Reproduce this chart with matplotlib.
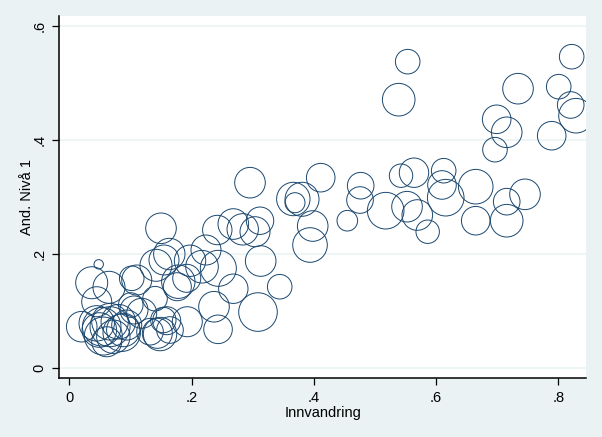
import numpy as np
import matplotlib
matplotlib.use("Agg")
import matplotlib.pyplot as plt

# --- data (x = Innvandring, y = And. Nivå 1, w = bubble weight)
innvandring = [
    0.5536, 0.5389, 0.8219, 0.7341, 0.8007, 0.8203, 0.8290, 0.6992, 0.7156, 0.7892, 0.6964,
    0.4113, 0.4767, 0.4756, 0.4548, 0.5176, 0.5427, 0.5639, 0.6125, 0.6097, 0.6158, 0.6649,
    0.5525, 0.5693, 0.5863, 0.6649, 0.7156, 0.7455, 0.7156,
    0.2956, 0.3665, 0.3807, 0.3692, 0.3982, 0.3938, 0.3442, 0.3087, 0.3131, 0.3120, 0.2837,
    0.2683, 0.2421, 0.3038, 0.1500, 0.2367, 0.2433, 0.2236, 0.2438, 0.2683, 0.2171, 0.1975,
    0.1636, 0.1418, 0.1783, 0.1767, 0.1921, 0.1103, 0.1402, 0.1593, 0.1930, 0.1484, 0.1549,
    0.0481, 0.0366, 0.0649, 0.1021, 0.0448, 0.0203, 0.0448, 0.0491, 0.0556, 0.0666, 0.0802,
    0.0857, 0.0939, 0.1058, 0.1184, 0.1005, 0.1440, 0.0612, 0.0720, 0.0883, 0.0530, 0.0666,
    0.1320, 0.1647, 0.1538,
]
and_niva1 = [
    0.5374, 0.4707, 0.5461, 0.4900, 0.4935, 0.4614, 0.4426, 0.4363, 0.4135, 0.4075, 0.3830,
    0.3339, 0.3198, 0.2947, 0.2584, 0.2760, 0.3374, 0.3426, 0.3461, 0.3211, 0.2988, 0.3181,
    0.2830, 0.2684, 0.2391, 0.2584, 0.2918, 0.3047, 0.2584,
    0.3251, 0.2965, 0.2960, 0.2900, 0.2491, 0.2158, 0.1426, 0.0982, 0.1877, 0.2584, 0.2433,
    0.2526, 0.2421, 0.2391, 0.2451, 0.1075, 0.0679, 0.2070, 0.1749, 0.1391, 0.1777, 0.1882,
    0.2000, 0.1802, 0.1514, 0.1426, 0.1574, 0.1544, 0.1216, 0.0830, 0.0812, 0.0596, 0.1895,
    0.1819, 0.1496, 0.1416, 0.1574, 0.1163, 0.0725, 0.0784, 0.0667, 0.0561, 0.0725, 0.0812,
    0.0619, 0.0754, 0.1018, 0.0960, 0.1105, 0.0609, 0.0461, 0.0549, 0.0667, 0.0725, 0.0812,
    0.0637, 0.0667, 0.0842,
]
vekt = [
    151, 266, 151, 234, 151, 177, 299, 204, 234, 204, 151,
    204, 177, 177, 106, 335, 137, 216, 151, 204, 335, 299,
    234, 234, 137, 204, 177, 234, 266,
    234, 279, 289, 100, 234, 299, 151, 372, 234, 188, 246,
    234, 216, 225, 234, 234, 204, 225, 324, 216, 266, 246,
    246, 256, 279, 196, 196, 225, 151, 196, 225, 279, 225,
    22, 256, 256, 151, 225, 234, 313, 299, 361, 400, 299,
    350, 225, 196, 225, 151, 225, 225, 279, 279, 372, 335,
    177, 177, 161,
]

BG = "#eaf2f3"
NAVY = "#1a476f"
DPI = 100

fig = plt.figure(figsize=(6.02, 4.37), dpi=DPI, facecolor=BG)
ax = fig.add_axes([0.0985, 0.135, 0.8749, 0.8284])
ax.set_facecolor("white")

# bubble area proportional to weight (w ~ radius^2 in pixels)
s = np.array(vekt) * (2 * 72 / DPI) ** 2
ax.scatter(innvandring, and_niva1, s=s, facecolors="none",
           edgecolors=NAVY, linewidths=0.7, zorder=3)

ax.set_xlim(-0.0164, 0.8453)
ax.set_ylim(-0.0175, 0.6175)
ax.set_xticks([0, .2, .4, .6, .8])
ax.set_xticklabels(["0", ".2", ".4", ".6", ".8"])
ax.set_yticks([0, .2, .4, .6])
ax.set_yticklabels(["0", ".2", ".4", ".6"], rotation=90, va="center")
ax.yaxis.grid(True, color=BG, lw=1.1, zorder=0)
ax.set_axisbelow(True)

for side in ("top", "right"):
    ax.spines[side].set_visible(False)
for side in ("left", "bottom"):
    ax.spines[side].set_color("black")
    ax.spines[side].set_linewidth(1.1)
ax.tick_params(direction="out", length=5, width=0.9, colors="black",
               labelsize=10.5, pad=4)
for lab in ax.get_xticklabels() + ax.get_yticklabels():
    lab.set_family("Liberation Sans")

ax.set_xlabel("Innvandring", family="Liberation Sans", fontsize=10.5, labelpad=1)
ax.set_ylabel("And. Nivå 1", family="Liberation Sans", fontsize=10.5, labelpad=-1)

fig.savefig("out.png", dpi=DPI, facecolor=BG)
